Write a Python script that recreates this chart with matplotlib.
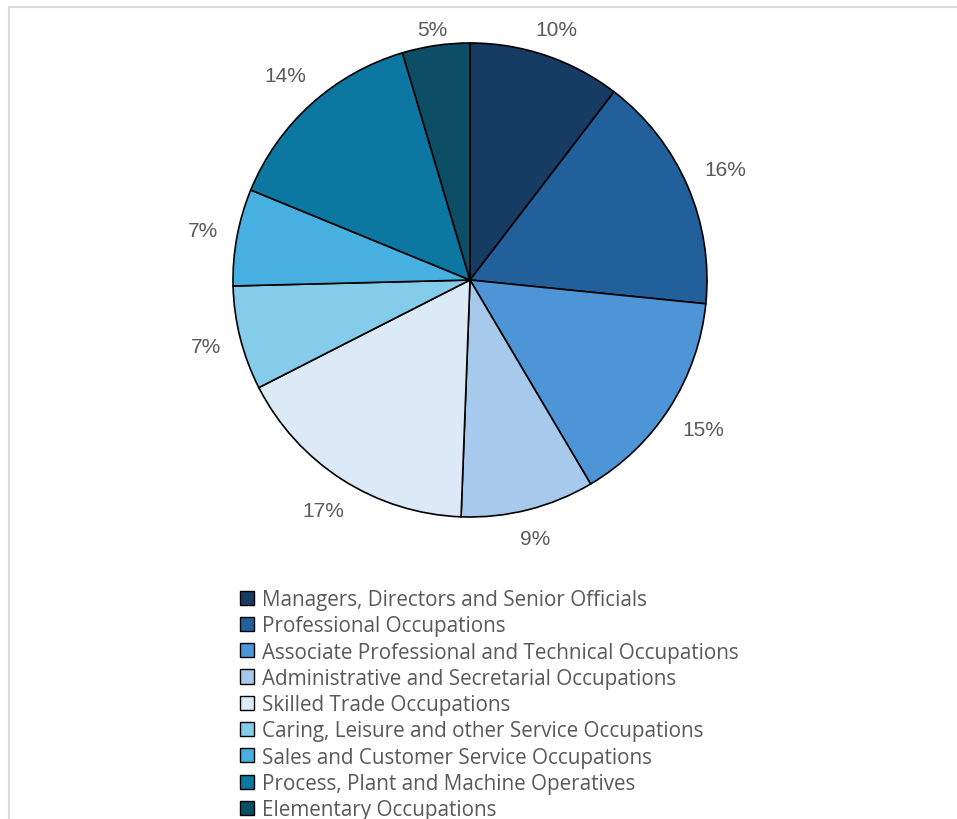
import matplotlib
matplotlib.use("Agg")
import numpy as np
import matplotlib.pyplot as plt
from matplotlib.patches import Patch, Rectangle

plt.rcParams['font.family'] = ['Open Sans', 'DejaVu Sans']

occupations = [
    "Managers, Directors and Senior Officials",
    "Professional Occupations",
    "Associate Professional and Technical Occupations",
    "Administrative and Secretarial Occupations",
    "Skilled Trade Occupations",
    "Caring, Leisure and other Service Occupations",
    "Sales and Customer Service Occupations",
    "Process, Plant and Machine Operatives",
    "Elementary Occupations",
]
shares = [10.4, 16.2, 14.9, 9.1, 16.9, 7.1, 6.6, 14.2, 4.6]
colors = ["#173c63", "#22609c", "#4e95d8", "#a6c9ec", "#dce9f6",
          "#84ccea", "#47b0e0", "#0c77a0", "#0b4e66"]

W, H = 957, 820
fig = plt.figure(figsize=(W / 100, H / 100), dpi=100)

# light chart-area frame
fig.patches.append(Rectangle((9 / W, -0.05), 1.1, (H - 8) / H + 0.05,
                             transform=fig.transFigure, fill=False,
                             edgecolor="#d9d9d9", linewidth=1.5))

cx, cy, r = 470, 281, 237
ax = fig.add_axes([(cx - r) / W, (H - cy - r) / H, 2 * r / W, 2 * r / H])
wedges, _, autotexts = ax.pie(
    shares, colors=colors, startangle=90, counterclock=False,
    autopct="%.0f%%", pctdistance=1.15,
    wedgeprops=dict(edgecolor="black", linewidth=1.2),
    textprops=dict(color="#595959", fontsize=15, family="Liberation Sans"),
)
ax.set_xlim(-1, 1)
ax.set_ylim(-1, 1)
ax.set_aspect("equal")
ax.axis("off")

# outside-end labels: keep a fixed gap between the rim and the label box
fig.canvas.draw()
renderer = fig.canvas.get_renderer()
gap_px = 18.5
top_limit = 250 / r  # labels stay inside the plot area
for w, t in zip(wedges, autotexts):
    theta = np.deg2rad((w.theta1 + w.theta2) / 2)
    bb = t.get_window_extent(renderer)
    hw, hh = bb.width / 2, 7.5
    ext = abs(np.cos(theta)) * hw + abs(np.sin(theta)) * hh
    d = (r + gap_px + ext) / r
    x, y = d * np.cos(theta), d * np.sin(theta)
    y = min(y, top_limit)
    t.set_position((x, y))
    t.set_ha("center")
    t.set_va("center")
    t.set_clip_on(False)

handles = [Patch(facecolor=c, edgecolor="black", linewidth=1.0) for c in colors]
fig.legend(handles, occupations, loc="upper left",
           bbox_to_anchor=(240 / W, 1 - 590 / H), frameon=False,
           fontsize=14.85, labelcolor="#595959", borderpad=0, borderaxespad=0,
           handlelength=0.68, handleheight=0.68, handletextpad=0.4,
           labelspacing=0.255)

fig.savefig("out.png", dpi=100)
